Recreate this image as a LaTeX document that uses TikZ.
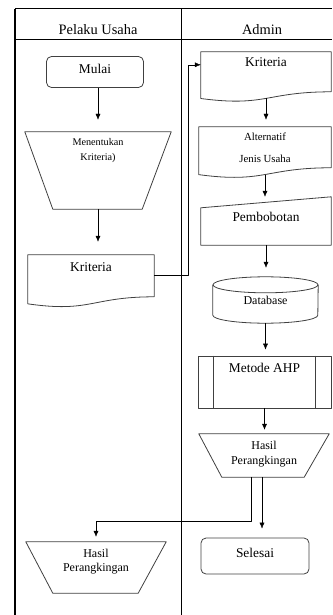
\documentclass[tikz,border=0pt]{standalone}
\usepackage{fontspec}
\setmainfont{Liberation Serif}
\usetikzlibrary{calc,arrows.meta}
\tikzset{
	shp/.style={draw=black!75, line width=0.8pt},
	box/.style={inner sep=0pt, font=\fontsize{13.4}{16}\selectfont, text height=9pt},
	lane/.style={line width=1pt},
	head/.style={font=\fontsize{14.4}{16}\selectfont},
}
\newcommand{\dokumen}[2]{\draw[shp] (#1.north west) -- (#1.north east) -- ($(#1.north east)+(0,0.8*#2)$) .. controls ($(#1.north)+(0,0.8*#2)$) and ($(#1.north)+(0,1.107*#2)$) .. ($(#1.north west)+(0,0.934*#2)$) -- cycle;}
\begin{document}
\begin{tikzpicture}[x=1pt, y=-1pt, line join=round, >={Latex[length=6pt,width=5pt]}]
		\useasboundingbox (0,0) rectangle (332,615);
		\draw[line width=1.6pt] (15,9) -- (15,615);
		\draw[lane] (15,9) -- (332,9) (15,39.5) -- (332,39.5) (181,9) -- (181,615);
		\node[head] (pelaku) at (98,30) {Pelaku Usaha};
		\node[head] (admin) at (262,30) {Admin};
		\node[box, shp, rounded corners=5pt, minimum width=97, minimum height=31, text depth=5pt] (mulai) at (95,72) {Mulai};
		\node[box, minimum width=146, minimum height=77, font=\fontsize{10.2}{15}\selectfont, align=center, text height=7pt, text depth=27pt] (tentukan) at (98,170.5) {Menentukan\\Kriteria)};
		\draw[shp] (tentukan.north west) -- (tentukan.north east) -- ([xshift=-29pt]tentukan.south east) -- ([xshift=28pt]tentukan.south west) -- cycle;
		\node[box, minimum width=126, minimum height=52.5, text depth=29.5pt] (krit1) at (91,281.25) {Kriteria};
		\dokumen{krit1}{52.5}
		\node[box, minimum width=130, minimum height=50, text depth=29pt] (krit2) at (266,77) {Kriteria};
		\dokumen{krit2}{50}
		\node[box, minimum width=132, minimum height=51.25, font=\fontsize{10.8}{22}\selectfont, align=center, text height=19.8pt, text depth=0pt] (alt) at (265,152.6) {Alternatif\\Jenis Usaha};
		\dokumen{alt}{51.25}
		\node[box, minimum width=130, minimum height=48, text depth=9pt] (pemb) at (266,221) {Pembobotan};
		\draw[shp] ($(pemb.north west)+(0,11)$) -- (pemb.north east) -- (pemb.south east) -- (pemb.south west) -- cycle;
		\node[box, minimum width=105, minimum height=46, font=\fontsize{12}{14}\selectfont, text height=8pt, text depth=0pt] (db) at (265.5,300) {Database};
		\draw[shp] ($(db.north)+(0,8)$) ellipse [x radius=52.5pt, y radius=8pt];
		\draw[shp] ($(db.north west)+(0,8)$) -- ($(db.south west)+(0,-8)$) arc [start angle=180, end angle=360, x radius=52.5pt, y radius=8pt] -- ($(db.north east)+(0,8)$);
		\node[box, shp, minimum width=133, minimum height=52, text depth=29pt] (ahp) at (264.5,382) {Metode AHP};
		\draw[shp] ($(ahp.north west)+(16,0)$) -- ($(ahp.south west)+(16,0)$) ($(ahp.north east)+(-16,0)$) -- ($(ahp.south east)+(-16,0)$);
		\node[box, minimum width=130, minimum height=43, font=\fontsize{12}{15}\selectfont, align=center, text height=17pt, text depth=0pt] (hasil2) at (264,455.5) {Hasil\\Perangkingan};
		\draw[shp] (hasil2.north west) -- (hasil2.north east) -- ([xshift=-25pt]hasil2.south east) -- ([xshift=23pt]hasil2.south west) -- cycle;
		\node[box, shp, rounded corners=5pt, minimum width=108, minimum height=36, text depth=7pt] (selesai) at (255,556) {Selesai};
		\node[box, minimum width=140, minimum height=51, font=\fontsize{12}{14}\selectfont, align=center, text height=8pt, text depth=1pt] (hasil1) at (96,567.5) {Hasil\\Perangkingan};
		\draw[shp] (hasil1.north west) -- (hasil1.north east) -- ([xshift=-28pt]hasil1.south east) -- ([xshift=27pt]hasil1.south west) -- cycle;
		\draw[->, shorten >=12pt] (mulai.south -| tentukan.north) -- (tentukan.north);
		\draw[->, shorten >=13pt] (tentukan.south) -- (tentukan.south |- krit1.north);
		\draw[->] ($(krit1.north east)+(0,20)$) -- ++(34,0) |- ($(krit2.north west)+(0,13)$);
		\draw[->, shorten >=7pt] ($(krit2.north)+(0,46.6)$) -- (krit2.north |- alt.north);
		\draw[->] ($(alt.north)+(0,47.8)$) -- (alt.north |- pemb.north);
		\draw[->, shorten >=9pt] (pemb.south) -- (pemb.south |- db.north);
		\draw[->, shorten >=6pt] (db.south) -- (db.south |- ahp.north);
		\draw[->, shorten >=4pt] (ahp.south) -- (ahp.south |- hasil2.north);
		\draw[->, shorten >=5pt] ($(hasil2.south)+(-13,0)$) -- ++(0,44) -| (hasil1.north);
		\draw[->, shorten >=9pt] ($(hasil2.south)+(-2,0)$) coordinate (turun) -- (turun |- selesai.north);
\end{tikzpicture}
\end{document}
